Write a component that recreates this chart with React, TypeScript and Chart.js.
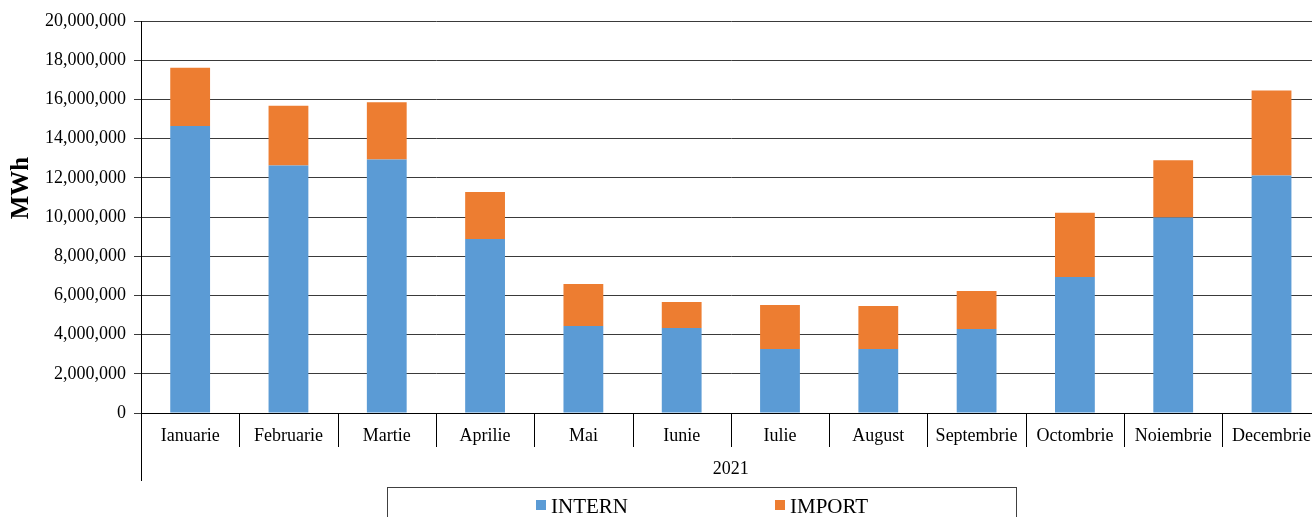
import React, { useEffect, useRef } from "react";
import { Chart, registerables } from "chart.js";

Chart.register(...registerables);

const categories = ["Ianuarie", "Februarie", "Martie", "Aprilie", "Mai", "Iunie", "Iulie", "August", "Septembrie", "Octombrie", "Noiembrie", "Decembrie"];
const internValues = [14640000, 12630000, 12930000, 8880000, 4440000, 4340000, 3270000, 3270000, 4290000, 6940000, 9970000, 12120000];
const importValues = [2970000, 3040000, 2930000, 2400000, 2140000, 1320000, 2240000, 2190000, 1930000, 3280000, 2920000, 4330000];
const groupLabel = "2021";
const yTitle = "MWh";
const seriesNames = ["INTERN", "IMPORT"];
const seriesColors = ["#5B9BD5", "#ED7D31"];
const yMax = 20000000;
const yStep = 2000000;

const FONT = "'Liberation Serif', 'Times New Roman', serif";
const CANVAS_W = 1323;

const overlayPlugin = {
  id: "overlay",
  afterDraw(chart: any) {
    const { ctx, chartArea } = chart;
    const { left, right, bottom } = chartArea;
    const n = categories.length;
    const catW = (right - left) / n;
    ctx.save();
    ctx.strokeStyle = "#000";
    ctx.lineWidth = 1;
    ctx.beginPath();
    for (let i = 1; i < n; i++) {
      const x = Math.round(left + i * catW) + 0.5;
      ctx.moveTo(x, bottom);
      ctx.lineTo(x, bottom + 34);
    }
    const lx = Math.round(left) + 0.5;
    ctx.moveTo(lx, bottom);
    ctx.lineTo(lx, bottom + 68);
    ctx.stroke();

    ctx.fillStyle = "#000";
    ctx.font = `18px ${FONT}`;
    ctx.textAlign = "center";
    ctx.textBaseline = "middle";
    ctx.fillText(groupLabel, (left + right) / 2, bottom + 56);

    // y title
    ctx.save();
    ctx.translate(22, 188);
    ctx.rotate(-Math.PI / 2);
    ctx.font = `bold 25px ${FONT}`;
    ctx.textAlign = "center";
    ctx.textBaseline = "middle";
    ctx.fillText(yTitle, 0, 0);
    ctx.restore();

    // legend box
    ctx.strokeStyle = "#404040";
    ctx.strokeRect(387.5, 487.5, 629, 40);
    const items = [
      { sx: 536, tx: 551 },
      { sx: 775, tx: 790 },
    ];
    ctx.font = `21px ${FONT}`;
    ctx.textAlign = "left";
    ctx.textBaseline = "alphabetic";
    items.forEach((it, i) => {
      ctx.fillStyle = seriesColors[i];
      ctx.fillRect(it.sx, 500, 10, 10);
      ctx.fillStyle = "#000";
      ctx.fillText(seriesNames[i], it.tx, 513);
    });
    ctx.restore();
  },
};

export default function App() {
  const ref = useRef<HTMLCanvasElement>(null);
  useEffect(() => {
    if (!ref.current) return;
    const chart = new Chart(ref.current, {
      type: "bar",
      data: {
        labels: categories,
        datasets: [
          {
            label: seriesNames[0],
            data: internValues,
            backgroundColor: seriesColors[0],
            borderWidth: 0,
            barPercentage: 0.405,
            categoryPercentage: 1,
          },
          {
            label: seriesNames[1],
            data: importValues,
            backgroundColor: seriesColors[1],
            borderWidth: 0,
            barPercentage: 0.405,
            categoryPercentage: 1,
          },
        ],
      },
      options: {
        responsive: false,
        animation: false,
        devicePixelRatio: 1,
        layout: { padding: { top: 21, right: 0, left: 0, bottom: 0 } },
        plugins: {
          legend: { display: false },
          tooltip: { enabled: false },
          title: { display: false },
        },
        scales: {
          x: {
            stacked: true,
            offset: true,
            grid: { display: false, drawOnChartArea: false, drawTicks: false },
            border: { display: true, color: "#000", width: 1 },
            ticks: {
              color: "#000",
              font: { family: FONT, size: 18 },
              padding: 12,
              maxRotation: 0,
              autoSkip: false,
            },
            afterFit: (scale: any) => {
              scale.height = 104;
            },
          },
          y: {
            stacked: true,
            min: 0,
            max: yMax,
            grid: {
              color: "#3a3a3a",
              lineWidth: 1,
              tickLength: 7,
              drawTicks: true,
            },
            border: { display: true, color: "#000", width: 1 },
            ticks: {
              stepSize: yStep,
              color: "#000",
              font: { family: FONT, size: 18 },
              padding: 8,
              callback: (v: any) => Number(v).toLocaleString("en-US"),
            },
            afterFit: (scale: any) => {
              scale.width = 141;
            },
          },
        },
      },
      plugins: [overlayPlugin],
    });
    return () => chart.destroy();
  }, []);
  return (
    <div style={{ position: "absolute", left: 0, top: 0, width: 1312, height: 517, overflow: "hidden", background: "#fff" }}>
      <canvas ref={ref} width={CANVAS_W} height={517} style={{ display: "block" }} />
    </div>
  );
}
